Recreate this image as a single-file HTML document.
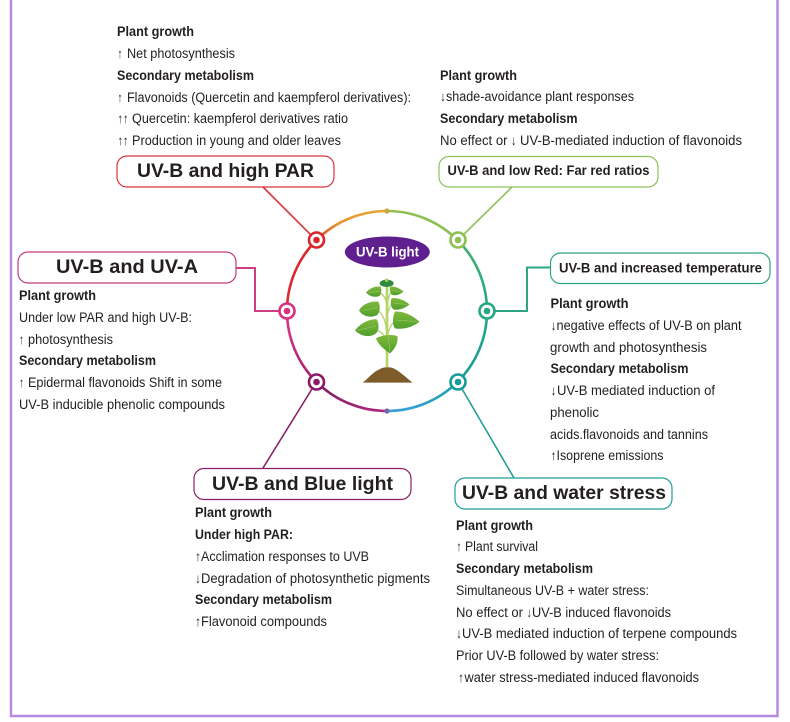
<!DOCTYPE html>
<html lang="en">
<head>
<meta charset="utf-8">
<title>UV-B light interactions</title>
<style>
html,body{margin:0;padding:0;background:#fff}
svg{display:block}
text{font-family:"Liberation Sans","DejaVu Sans",sans-serif;fill:#231f20;font-size:13.5px}
.b{font-weight:700}
.h{font-weight:700;font-size:19px;letter-spacing:0}
.s{font-weight:700;font-size:13.5px}
</style>
</head>
<body>
<svg xmlns="http://www.w3.org/2000/svg" width="790" height="722" viewBox="0 0 790 722">
<defs>
<linearGradient id="g1" gradientUnits="userSpaceOnUse" x1="316" y1="240" x2="387" y2="211"><stop offset="0" stop-color="#dc3f2c"/><stop offset=".35" stop-color="#e8962f"/><stop offset="1" stop-color="#e3a93a"/></linearGradient>
<linearGradient id="g2" gradientUnits="userSpaceOnUse" x1="458" y1="240" x2="487" y2="311"><stop offset="0" stop-color="#45b070"/><stop offset="1" stop-color="#24a884"/></linearGradient>
<linearGradient id="g3" gradientUnits="userSpaceOnUse" x1="487" y1="311" x2="458" y2="382"><stop offset="0" stop-color="#24a885"/><stop offset="1" stop-color="#169c98"/></linearGradient>
<linearGradient id="g4" gradientUnits="userSpaceOnUse" x1="458" y1="382" x2="387" y2="411"><stop offset="0" stop-color="#1f9fae"/><stop offset="1" stop-color="#3ba1dc"/></linearGradient>
<linearGradient id="g5" gradientUnits="userSpaceOnUse" x1="387" y1="411" x2="316" y2="382"><stop offset="0" stop-color="#b02a80"/><stop offset="1" stop-color="#861a62"/></linearGradient>
<linearGradient id="g6" gradientUnits="userSpaceOnUse" x1="316" y1="382" x2="287" y2="311"><stop offset="0" stop-color="#a81e72"/><stop offset="1" stop-color="#d93a85"/></linearGradient>
<linearGradient id="lf" x1="0" y1="0" x2="0" y2="1"><stop offset="0" stop-color="#80b93c"/><stop offset="1" stop-color="#4f9e2e"/></linearGradient>
</defs>

<!-- outer frame -->
<path d="M11 -5V716H777.500V-5" fill="none" stroke="#b88be2" stroke-width="2.500"/>

<!-- connectors -->
<g fill="none" stroke-width="1.600">
<path d="M263 187L316.300 240.300" stroke="#d8343c"/>
<path d="M512 187L458 240" stroke="#90c05a"/>
<path d="M236 268H255V311H287" stroke="#cf3d86" stroke-width="2"/>
<path d="M550 267.500H527V311H487" stroke="#2ea584" stroke-width="2"/>
<path d="M263 468L316.300 382" stroke="#8c1f66"/>
<path d="M514 478L458 382" stroke="#1f9f98"/>
</g>

<!-- ring -->
<g fill="none" stroke-width="2.600">
<path d="M316.300 240.300A100 100 0 0 1 387 211" stroke="url(#g1)"/>
<path d="M387 211A100 100 0 0 1 457.700 240.300" stroke="#8cc152"/>
<path d="M457.700 240.300A100 100 0 0 1 487 311" stroke="url(#g2)"/>
<path d="M487 311A100 100 0 0 1 457.700 381.700" stroke="url(#g3)"/>
<path d="M457.700 381.700A100 100 0 0 1 387 411" stroke="url(#g4)"/>
<path d="M387 411A100 100 0 0 1 316.300 381.700" stroke="url(#g5)"/>
<path d="M316.300 381.700A100 100 0 0 1 287 311" stroke="url(#g6)"/>
<path d="M287 311A100 100 0 0 1 316.300 240.300" stroke="#d92a2e"/>
</g>
<circle cx="387" cy="211" r="2.600" fill="#c9a83f"/>
<circle cx="387" cy="411" r="2.600" fill="#7468a8"/>

<!-- nodes -->
<g fill="#fff" stroke-width="2.600">
<circle cx="316.500" cy="240" r="7.500" stroke="#d9252b"/>
<circle cx="458" cy="240" r="7.500" stroke="#8cc152"/>
<circle cx="287" cy="311" r="7.500" stroke="#d6317f"/>
<circle cx="487" cy="311" r="7.500" stroke="#24a884"/>
<circle cx="316.500" cy="382" r="7.500" stroke="#8c1a66"/>
<circle cx="458" cy="382" r="7.500" stroke="#169c98"/>
</g>
<circle cx="316.500" cy="240" r="3.300" fill="#d9252b"/>
<circle cx="458" cy="240" r="3.300" fill="#8cc152"/>
<circle cx="287" cy="311" r="3.300" fill="#d6317f"/>
<circle cx="487" cy="311" r="3.300" fill="#24a884"/>
<circle cx="316.500" cy="382" r="3.300" fill="#8c1a66"/>
<circle cx="458" cy="382" r="3.300" fill="#169c98"/>

<!-- centre oval -->
<ellipse cx="387.300" cy="252" rx="42.500" ry="15.500" fill="#5f1f8f"/>
<text x="356" y="256.500" class="b" style="fill:#fff" textLength="63" lengthAdjust="spacingAndGlyphs">UV-B light</text>

<!-- plant -->
<g transform="translate(340 270) scale(.3333)">
<path d="M68 338C85 325 100 305 118 298C135 288 155 290 170 300C188 312 205 328 218 338Z" fill="#7d5c2a"/>
<g fill="none" stroke="#b5d568" stroke-width="4">
<path d="M141 45V292" stroke-width="8"/>
<path d="M120 68Q138 78 141 110M155 66Q144 78 141 110M112 120Q134 135 139 175M157 102Q143 115 141 150M105 178Q130 188 138 205M170 150Q146 165 142 205"/>
</g>
<g fill="url(#lf)">
<path d="M78 68C88 55 105 48 122 50C126 60 124 72 118 78C102 84 88 78 78 68Z"/>
<path d="M150 50C165 48 180 55 190 65C180 75 165 78 155 74C150 68 148 58 150 50Z"/>
<path d="M57 122C65 105 90 92 115 95C122 108 120 125 112 135C90 146 68 138 57 122Z"/>
<path d="M155 85C175 82 195 92 208 103C195 115 175 122 160 118C152 110 150 95 155 85Z"/>
<path d="M45 182C55 165 85 146 110 148C118 160 118 180 108 190C88 205 62 198 45 182Z"/>
<path d="M165 125C190 122 220 138 238 155C222 170 190 180 165 175C156 165 158 138 165 125Z"/>
<path d="M108 205C125 195 155 192 172 198C176 215 165 238 150 250C135 240 115 225 108 205Z"/>
</g>
<g fill="none" stroke="#a9d060" stroke-width="1.500">
<path d="M85 68L120 64M155 62L185 65M65 122L113 113M160 100L200 103M52 181L108 168M170 150L230 155M145 200L150 245"/>
</g>
<ellipse cx="140" cy="40" rx="21" ry="11" fill="#2e8b3e"/>
<circle cx="140" cy="31" r="5" fill="#a9cf52"/>
</g>

<!-- boxes -->
<g fill="#fff" stroke-width="1.200">
<rect x="117" y="156" width="217" height="31" rx="10" stroke="#d8343c"/>
<rect x="439" y="156.500" width="219" height="30.500" rx="10" stroke="#90c05a"/>
<rect x="550.500" y="253" width="219.500" height="30.500" rx="10" stroke="#2ea584"/>
<rect x="18" y="252" width="218" height="31" rx="10" stroke="#c43a7c"/>
<rect x="194" y="468.500" width="217" height="31" rx="10" stroke="#8c1f66"/>
<rect x="455" y="478" width="217" height="31" rx="10" stroke="#1f9f98"/>
</g>
<text x="137" y="177" class="h" textLength="177" lengthAdjust="spacingAndGlyphs">UV-B and high PAR</text>
<text x="447.500" y="175" class="s" textLength="202" lengthAdjust="spacingAndGlyphs">UV-B and low Red: Far red ratios</text>
<text x="559" y="272.500" class="s" textLength="203" lengthAdjust="spacingAndGlyphs">UV-B and increased temperature</text>
<text x="56" y="273" class="h" textLength="142" lengthAdjust="spacingAndGlyphs">UV-B and UV-A</text>
<text x="212" y="490" class="h" textLength="181" lengthAdjust="spacingAndGlyphs">UV-B and Blue light</text>
<text x="462" y="499" class="h" textLength="204" lengthAdjust="spacingAndGlyphs">UV-B and water stress</text>

<!-- top-left block -->
<text x="117" y="36" class="b" textLength="77" lengthAdjust="spacingAndGlyphs">Plant growth</text>
<text x="117.500" y="58" textLength="5" lengthAdjust="spacingAndGlyphs">↑</text>
<text x="127" y="58" textLength="108" lengthAdjust="spacingAndGlyphs">Net photosynthesis</text>
<text x="117" y="80" class="b" textLength="137" lengthAdjust="spacingAndGlyphs">Secondary metabolism</text>
<text x="117.500" y="102" textLength="5" lengthAdjust="spacingAndGlyphs">↑</text>
<text x="127" y="102" textLength="284" lengthAdjust="spacingAndGlyphs">Flavonoids (Quercetin and kaempferol derivatives):</text>
<text x="117.500" y="123" textLength="11" lengthAdjust="spacingAndGlyphs">↑↑</text>
<text x="132" y="123" textLength="216" lengthAdjust="spacingAndGlyphs">Quercetin: kaempferol derivatives ratio</text>
<text x="117.500" y="145" textLength="11" lengthAdjust="spacingAndGlyphs">↑↑</text>
<text x="132" y="145" textLength="209" lengthAdjust="spacingAndGlyphs">Production in young and older leaves</text>

<!-- top-right block -->
<text x="440" y="80" class="b" textLength="77" lengthAdjust="spacingAndGlyphs">Plant growth</text>
<text x="440" y="101" textLength="6" lengthAdjust="spacingAndGlyphs">↓</text>
<text x="446" y="101" textLength="188" lengthAdjust="spacingAndGlyphs">shade-avoidance plant responses</text>
<text x="440" y="123" class="b" textLength="137.500" lengthAdjust="spacingAndGlyphs">Secondary metabolism</text>
<text x="440" y="145" textLength="67.500" lengthAdjust="spacingAndGlyphs">No effect or</text>
<text x="511" y="145" textLength="5.500" lengthAdjust="spacingAndGlyphs">↓</text>
<text x="520" y="145" textLength="222" lengthAdjust="spacingAndGlyphs">UV-B-mediated induction of flavonoids</text>

<!-- left block -->
<text x="19" y="300" class="b" textLength="77" lengthAdjust="spacingAndGlyphs">Plant growth</text>
<text x="19" y="322" textLength="173" lengthAdjust="spacingAndGlyphs">Under low PAR and high UV-B:</text>
<text x="19" y="344" textLength="5" lengthAdjust="spacingAndGlyphs">↑</text>
<text x="28" y="344" textLength="85" lengthAdjust="spacingAndGlyphs">photosynthesis</text>
<text x="19" y="365" class="b" textLength="137" lengthAdjust="spacingAndGlyphs">Secondary metabolism</text>
<text x="19" y="387" textLength="5" lengthAdjust="spacingAndGlyphs">↑</text>
<text x="28" y="387" textLength="194" lengthAdjust="spacingAndGlyphs">Epidermal flavonoids Shift in some</text>
<text x="19" y="409" textLength="206" lengthAdjust="spacingAndGlyphs">UV-B inducible phenolic compounds</text>

<!-- right block -->
<text x="550.500" y="308" class="b" textLength="78" lengthAdjust="spacingAndGlyphs">Plant growth</text>
<text x="550.500" y="330" textLength="6" lengthAdjust="spacingAndGlyphs">↓</text>
<text x="556.500" y="330" textLength="185" lengthAdjust="spacingAndGlyphs">negative effects of UV-B on plant</text>
<text x="550" y="352" textLength="157" lengthAdjust="spacingAndGlyphs">growth and photosynthesis</text>
<text x="550.500" y="373" class="b" textLength="138" lengthAdjust="spacingAndGlyphs">Secondary metabolism</text>
<text x="550.500" y="395" textLength="6" lengthAdjust="spacingAndGlyphs">↓</text>
<text x="557" y="395" textLength="158" lengthAdjust="spacingAndGlyphs">UV-B mediated induction of</text>
<text x="550" y="417" textLength="49" lengthAdjust="spacingAndGlyphs">phenolic</text>
<text x="550" y="439" textLength="158" lengthAdjust="spacingAndGlyphs">acids.flavonoids and tannins</text>
<text x="550.500" y="460" textLength="6" lengthAdjust="spacingAndGlyphs">↑</text>
<text x="556.500" y="460" textLength="107" lengthAdjust="spacingAndGlyphs">Isoprene emissions</text>

<!-- bottom-left block -->
<text x="195" y="517" class="b" textLength="77" lengthAdjust="spacingAndGlyphs">Plant growth</text>
<text x="195" y="539" class="b" textLength="98" lengthAdjust="spacingAndGlyphs">Under high PAR:</text>
<text x="195" y="561" textLength="6" lengthAdjust="spacingAndGlyphs">↑</text>
<text x="201" y="561" textLength="168" lengthAdjust="spacingAndGlyphs">Acclimation responses to UVB</text>
<text x="195" y="583" textLength="6" lengthAdjust="spacingAndGlyphs">↓</text>
<text x="201" y="583" textLength="229" lengthAdjust="spacingAndGlyphs">Degradation of photosynthetic pigments</text>
<text x="195" y="604" class="b" textLength="137" lengthAdjust="spacingAndGlyphs">Secondary metabolism</text>
<text x="195" y="626" textLength="6" lengthAdjust="spacingAndGlyphs">↑</text>
<text x="201" y="626" textLength="126" lengthAdjust="spacingAndGlyphs">Flavonoid compounds</text>

<!-- bottom-right block -->
<text x="456" y="530" class="b" textLength="77" lengthAdjust="spacingAndGlyphs">Plant growth</text>
<text x="456.500" y="551" textLength="5" lengthAdjust="spacingAndGlyphs">↑</text>
<text x="465" y="551" textLength="73" lengthAdjust="spacingAndGlyphs">Plant survival</text>
<text x="456" y="573" class="b" textLength="137" lengthAdjust="spacingAndGlyphs">Secondary metabolism</text>
<text x="456" y="595" textLength="193" lengthAdjust="spacingAndGlyphs">Simultaneous UV-B + water stress:</text>
<text x="456" y="617" textLength="67" lengthAdjust="spacingAndGlyphs">No effect or</text>
<text x="526.500" y="617" textLength="5.500" lengthAdjust="spacingAndGlyphs">↓</text>
<text x="532" y="617" textLength="139" lengthAdjust="spacingAndGlyphs">UV-B induced flavonoids</text>
<text x="456" y="638" textLength="6" lengthAdjust="spacingAndGlyphs">↓</text>
<text x="462" y="638" textLength="275" lengthAdjust="spacingAndGlyphs">UV-B mediated induction of terpene compounds</text>
<text x="456" y="660" textLength="203" lengthAdjust="spacingAndGlyphs">Prior UV-B followed by water stress:</text>
<text x="458" y="682" textLength="6" lengthAdjust="spacingAndGlyphs">↑</text>
<text x="464.500" y="682" textLength="234.500" lengthAdjust="spacingAndGlyphs">water stress-mediated induced flavonoids</text>
</svg>
</body>
</html>
